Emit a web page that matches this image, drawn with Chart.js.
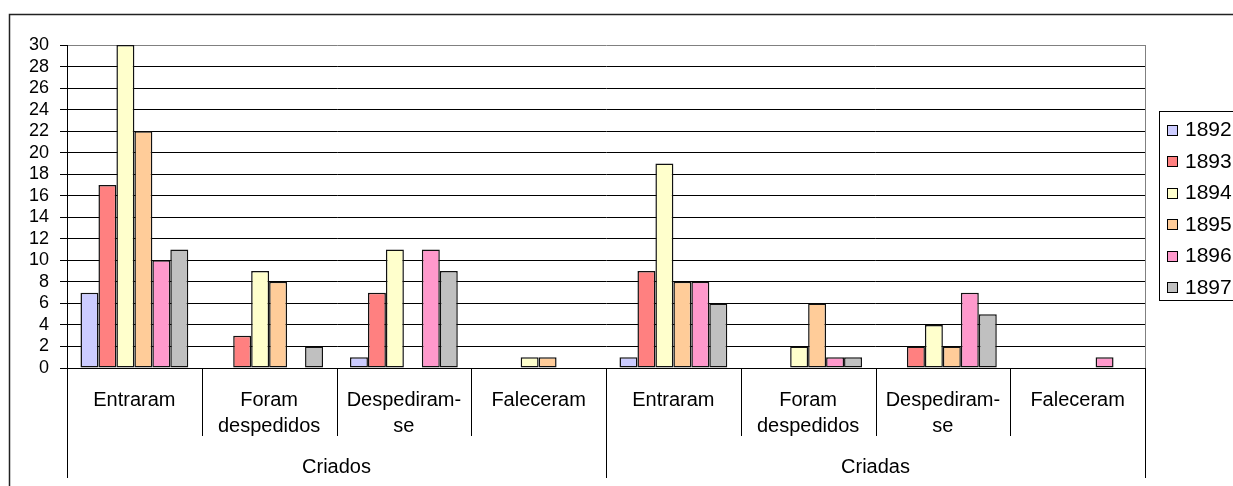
<!DOCTYPE html>
<html>
<head>
<meta charset="utf-8">
<script src="https://cdn.jsdelivr.net/npm/chart.js@4/dist/chart.umd.min.js"></script>
<style>
  html, body { margin: 0; padding: 0; background: #fff; overflow: hidden; }
  #wrap { width: 1233px; height: 486px; position: relative; }
</style>
</head>
<body>
<div id="wrap"><canvas id="c"></canvas></div>
<script>
// Movement of servants (criados / criadas), by year
const groups = ['Criados', 'Criadas'];
const categories = [['Entraram'], ['Foram', 'despedidos'], ['Despediram-', 'se'], ['Faleceram']];
const years = ['1892', '1893', '1894', '1895', '1896', '1897'];
const yTicks = { min: 0, max: 30, step: 2 };

// values per year: Criados (4 categories) then Criadas (4 categories)
const v1892 = [7, 0, 1, 0,   1, 0, 0, 0];
const v1893 = [17, 3, 7, 0,  9, 0, 2, 0];
const v1894 = [30, 9, 11, 1, 19, 2, 4, 0];
const v1895 = [22, 8, 0, 1,  8, 6, 2, 0];
const v1896 = [10, 0, 11, 0, 8, 1, 7, 1];
const v1897 = [11, 2, 9, 0,  6, 1, 5, 0];

const seriesValues = [v1892, v1893, v1894, v1895, v1896, v1897];
const seriesColors = ['#CCCCFF', '#FF8080', '#FFFFCC', '#FFCC99', '#FF99CC', '#C0C0C0'];

const FONT = "'Liberation Sans', Arial, sans-serif";

const labels = [];
groups.forEach(g => categories.forEach(c => labels.push(c.join(' '))));

const datasets = years.map((y, i) => ({
  label: y,
  data: seriesValues[i],
  backgroundColor: seriesColors[i],
  borderColor: '#111',
  borderWidth: 1.5,
  borderSkipped: false,
  categoryPercentage: 0.8,
  barPercentage: 1.0
}));

// outer frame of the chart object
const framePlugin = {
  id: 'frame',
  beforeDraw(chart) {
    const ctx = chart.ctx;
    ctx.save();
    ctx.fillStyle = '#fff';
    ctx.fillRect(0, 0, chart.width, chart.height);
    ctx.strokeStyle = '#222';
    ctx.lineWidth = 1.5;
    ctx.strokeRect(9.5, 14.5, 3000, 3000);
    ctx.restore();
  }
};

// two-level category axis, plot border and boxed legend
const decorPlugin = {
  id: 'decor',
  afterDraw(chart) {
    const ctx = chart.ctx;
    const xs = chart.scales.x;
    const area = chart.chartArea;
    const n = labels.length;
    const half = (xs.getPixelForValue(1) - xs.getPixelForValue(0)) / 2;
    const bottom = area.bottom;
    ctx.save();

    // plot area right border
    ctx.strokeStyle = '#808080';
    ctx.lineWidth = 1;
    ctx.beginPath();
    ctx.moveTo(Math.round(area.right) + 0.5, area.top);
    ctx.lineTo(Math.round(area.right) + 0.5, bottom);
    ctx.stroke();

    // separators below the axis
    ctx.strokeStyle = '#000';
    ctx.lineWidth = 1;
    for (let i = 0; i <= n; i++) {
      const px = Math.round(xs.getPixelForValue(i) - half) + 0.5;
      const isGroupEdge = (i % categories.length === 0);
      ctx.beginPath();
      ctx.moveTo(px, bottom);
      ctx.lineTo(px, bottom + (isGroupEdge ? 110 : 68));
      ctx.stroke();
    }

    // category labels
    ctx.fillStyle = '#000';
    ctx.font = '20px ' + FONT;
    ctx.textAlign = 'center';
    ctx.textBaseline = 'alphabetic';
    for (let i = 0; i < n; i++) {
      const cx = xs.getPixelForValue(i);
      const lines = categories[i % categories.length];
      lines.forEach((t, k) => ctx.fillText(t, cx, bottom + 38 + k * 26));
    }

    // group labels
    groups.forEach((g, gi) => {
      const first = gi * categories.length;
      const last = first + categories.length - 1;
      const cx = (xs.getPixelForValue(first) + xs.getPixelForValue(last)) / 2;
      ctx.fillText(g, cx, bottom + 105);
    });

    // legend
    const lx = Math.round(area.right) + 14;
    const ly = 111;
    ctx.strokeStyle = '#000';
    ctx.lineWidth = 1;
    ctx.strokeRect(lx + 0.5, ly + 0.5, 300, 189);
    ctx.font = '21px ' + FONT;
    ctx.textAlign = 'left';
    ctx.textBaseline = 'middle';
    chart.data.datasets.forEach((ds, i) => {
      const cy = ly + 18.5 + i * 31.5;
      ctx.fillStyle = ds.backgroundColor;
      ctx.fillRect(lx + 8.5, Math.round(cy - 5) + 0.5, 10, 10);
      ctx.strokeStyle = '#000';
      ctx.strokeRect(lx + 8.5, Math.round(cy - 5) + 0.5, 10, 10);
      ctx.fillStyle = '#000';
      ctx.fillText(ds.label, lx + 26, cy + 1);
    });

    ctx.restore();
  }
};

new Chart(document.getElementById('c'), {
  type: 'bar',
  data: { labels, datasets },
  options: {
    responsive: true,
    maintainAspectRatio: false,
    animation: false,
    layout: { padding: { top: 45, right: 88, left: 0, bottom: 0 } },
    plugins: {
      legend: { display: false },
      tooltip: { enabled: false },
      title: { display: false }
    },
    scales: {
      x: {
        ticks: { display: false },
        grid: { display: false, drawTicks: false },
        border: { display: true, color: '#000', width: 1 },
        afterFit(s) { s.height = 118; }
      },
      y: {
        min: yTicks.min,
        max: yTicks.max,
        ticks: {
          stepSize: yTicks.step,
          autoSkip: false,
          color: '#000',
          padding: 11,
          font: { family: FONT, size: 18, lineHeight: 1 }
        },
        grid: {
          color: c => (c.tick && c.tick.value === yTicks.max) ? '#808080' : '#000',
          tickColor: '#000',
          tickLength: 7,
          lineWidth: 1
        },
        border: { display: true, color: '#000', width: 1 },
        afterFit(s) { s.width = 67; }
      }
    }
  },
  plugins: [framePlugin, decorPlugin]
});
</script>
</body>
</html>
